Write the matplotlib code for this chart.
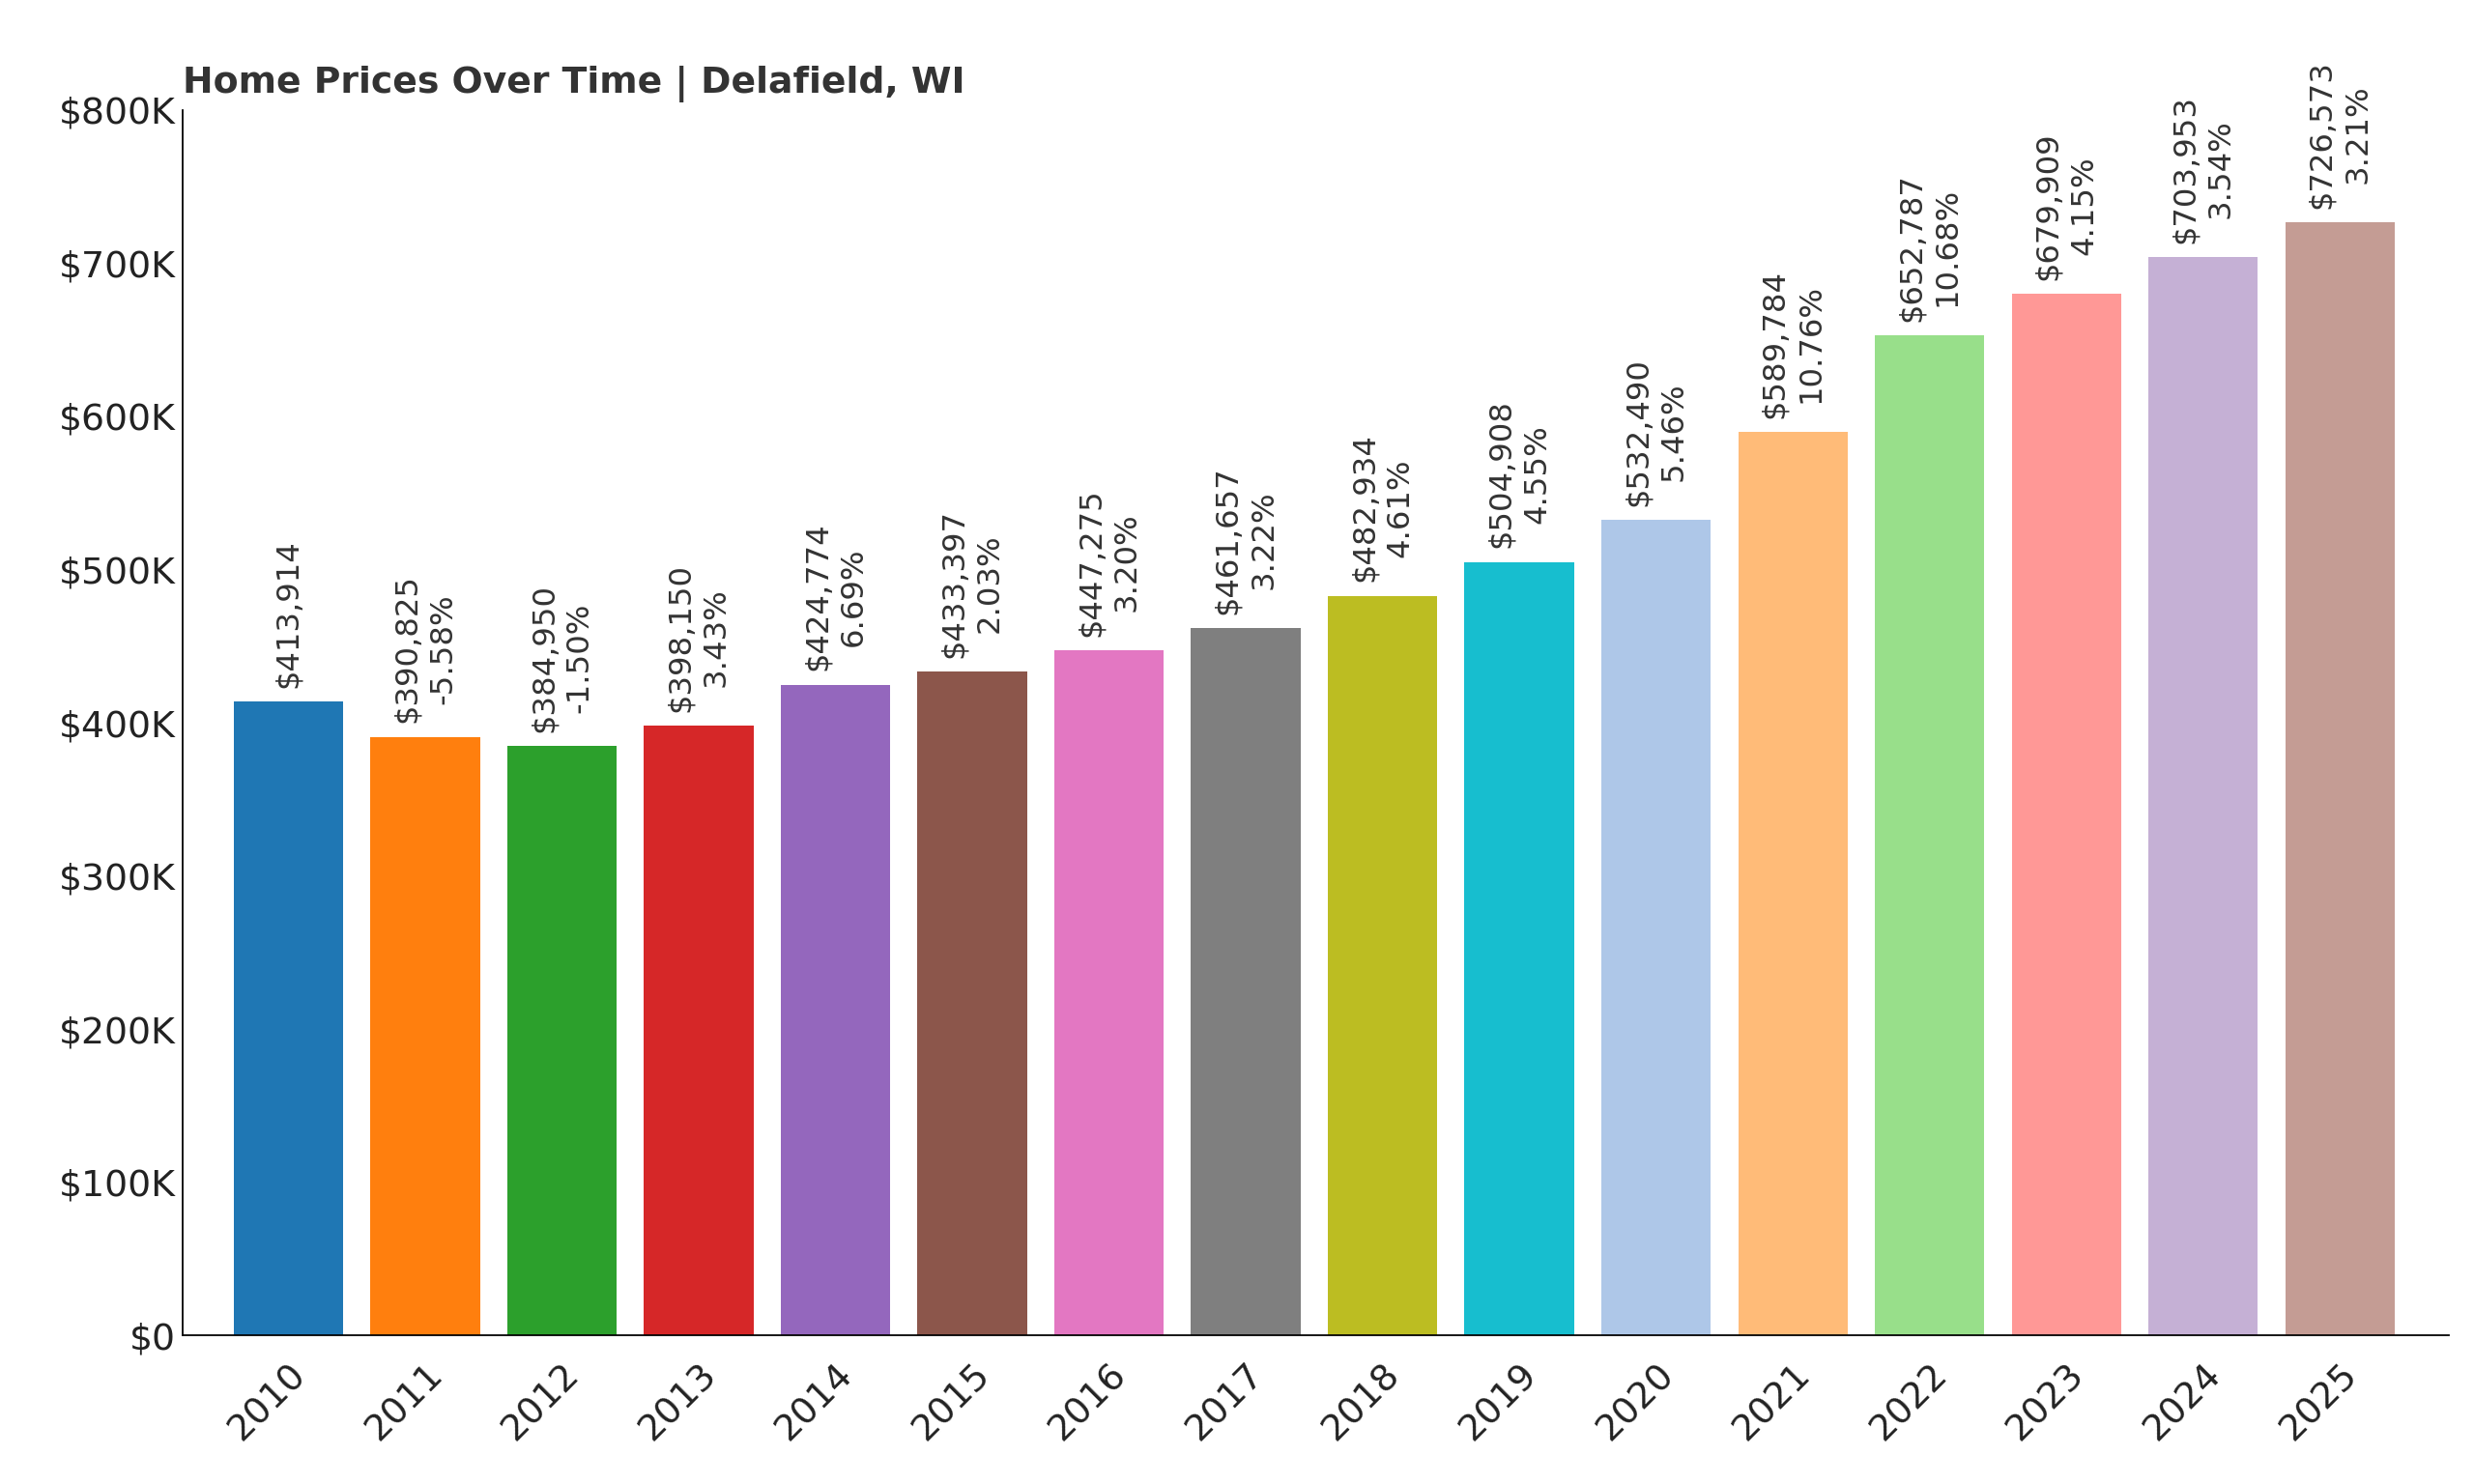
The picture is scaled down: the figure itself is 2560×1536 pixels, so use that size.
import matplotlib.pyplot as plt
from matplotlib.ticker import FuncFormatter

years = ['2010', '2011', '2012', '2013', '2014', '2015', '2016', '2017',
         '2018', '2019', '2020', '2021', '2022', '2023', '2024', '2025']
prices = [413914, 390825, 384950, 398150, 424774, 433397, 447275, 461657,
          482934, 504908, 532490, 589784, 652787, 679909, 703953, 726573]
changes = [None, '-5.58%', '-1.50%', '3.43%', '6.69%', '2.03%', '3.20%', '3.22%',
           '4.61%', '4.55%', '5.46%', '10.76%', '10.68%', '4.15%', '3.54%', '3.21%']
colors = ['#1f77b4', '#ff7f0e', '#2ca02c', '#d62728', '#9467bd', '#8c564b',
          '#e377c2', '#7f7f7f', '#bcbd22', '#17becf', '#aec7e8', '#ffbb78',
          '#98df8a', '#ff9896', '#c5b0d5', '#c49c94']

fig = plt.figure(figsize=(16, 9.6), dpi=160)
ax = fig.add_axes([0.074, 0.1, 0.916, 0.826])

bars = ax.bar(years, prices, color=colors, width=0.8)
for bar, p, c in zip(bars, prices, changes):
    txt = f'${p:,}' if c is None else f'${p:,}\n{c}'
    ax.text(bar.get_x() + bar.get_width() / 2, p + 9000, txt, rotation=90,
            ha='center', va='bottom', fontsize=14.5, color='#333333',
            linespacing=1.25)

ax.set_xlim(-0.77, 15.8)
ax.set_ylim(0, 800000)
ax.yaxis.set_major_formatter(FuncFormatter(lambda v, _: '$0' if v == 0 else f'${int(v/1000)}K'))
ax.tick_params(axis='both', length=0, labelsize=17, colors='#222222')
ax.tick_params(axis='x', pad=10)
plt.setp(ax.get_xticklabels(), rotation=45, ha='right', rotation_mode='anchor')
for s in ['top', 'right']:
    ax.spines[s].set_visible(False)
ax.set_title('Home Prices Over Time | Delafield, WI', loc='left',
             fontsize=17, fontweight='bold', color='#333333', pad=8)

fig.savefig('out.png', dpi=160)
